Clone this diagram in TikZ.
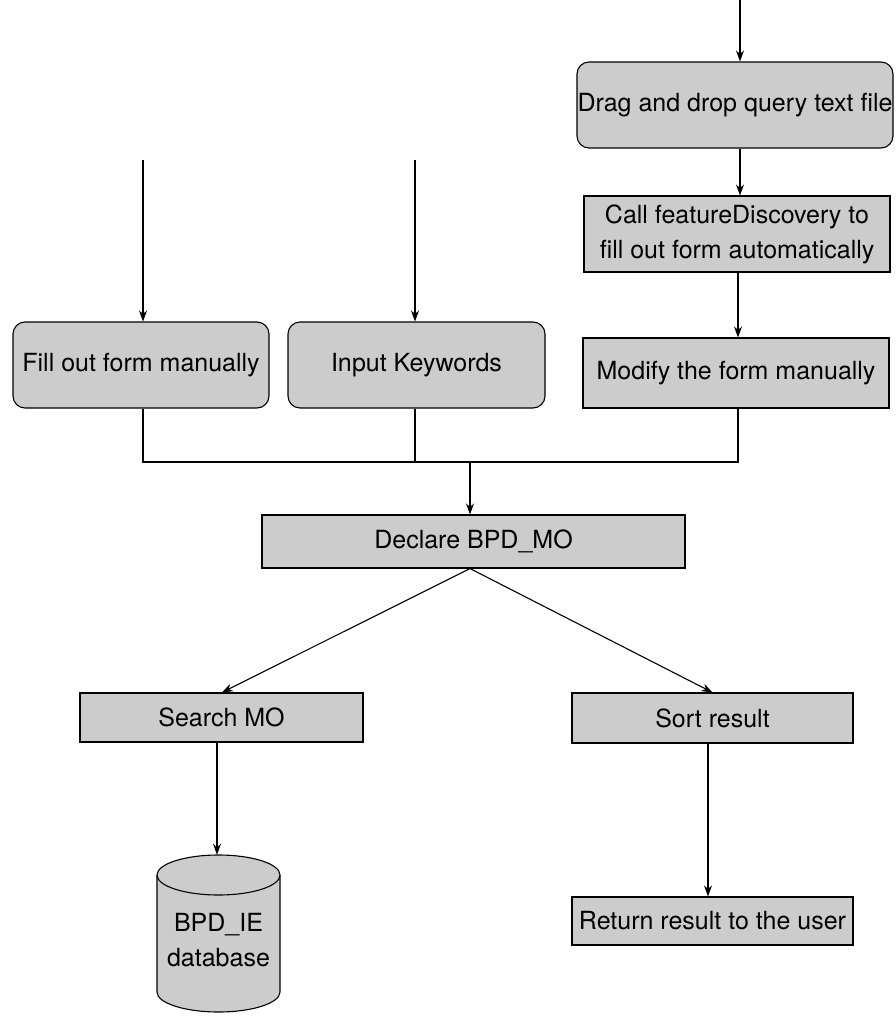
\documentclass[tikz,border=0pt]{standalone}
\usepackage{fontspec}
\setmainfont{TeX Gyre Heros}
\usetikzlibrary{arrows.meta}
\definecolor{boxgray}{gray}{0.80}
\tikzset{
  every node/.style={font=\fontsize{25}{35}\selectfont, text=black},
  box/.style={draw=black, line width=1.1pt, fill=boxgray, inner sep=0pt, align=center},
  rbox/.style={box, rounded corners=12pt},
  arr/.style={line width=1.1pt, -{Stealth[length=11pt,width=8pt]}},
  ln/.style={line width=1.1pt}
}
\begin{document}
\begin{tikzpicture}[x=1pt,y=-1pt]
\useasboundingbox (0,0) rectangle (895,1020);
% boxes
\node[rbox, minimum width=316pt, minimum height=86pt] (drag) at (735,105) {Drag and drop query text file};
\node[box, minimum width=306pt, minimum height=76pt] (call) at (737,234) {Call featureDiscovery to\\fill out form automatically};
\node[box, minimum width=306pt, minimum height=70pt] (modify) at (736,373) {Modify the form manually};
\node[rbox, minimum width=256pt, minimum height=86pt] (fill) at (141,365) {Fill out form manually};
\node[rbox, minimum width=257pt, minimum height=86pt] (input) at (416.5,365) {Input Keywords};
\node[box, minimum width=423pt, minimum height=53pt] (declare) at (473.5,541.5) {Declare BPD\_MO};
\node[box, minimum width=283pt, minimum height=49pt] (search) at (221.5,717.5) {Search MO};
\node[box, minimum width=281pt, minimum height=50pt] (sort) at (712.5,718) {Sort result};
\node[box, minimum width=281pt, minimum height=48pt] (ret) at (712.5,921) {Return result to the user};
% cylinder
\node[minimum width=123pt, minimum height=157pt, inner sep=0pt] (db) at (218.5,933.5) {};
\fill[boxgray] (157,875) -- (157,992) arc[start angle=180, end angle=0, x radius=61.5, y radius=20] -- (280,875) -- cycle;
\draw[ln] (157,875) -- (157,992) arc[start angle=180, end angle=0, x radius=61.5, y radius=20] -- (280,875);
\draw[ln, fill=boxgray] (218.5,875) ellipse [x radius=61.5, y radius=20];
\node[align=center] (dbtext) at (218.5,940) {BPD\_IE\\database};
% free ends and routing points
\coordinate (t0) at (740,0);
\coordinate (m) at (738,0);
\coordinate (t1) at (143,160);
\coordinate (t2) at (415,160);
\coordinate (j) at (470,462);
\coordinate (sx) at (217,0);
\coordinate (rx) at (708,0);
% connectors
\draw[arr] (t0) -- (t0 |- drag.north);
\draw[arr] (drag.south -| t0) -- (t0 |- call.north);
\draw[arr] (call.south -| m) -- (m |- modify.north);
\draw[arr] (t1) -- (t1 |- fill.north);
\draw[arr] (t2) -- (t2 |- input.north);
\draw[ln] (fill.south -| t1) -- (t1 |- j) -- (m |- j) -- (modify.south -| m);
\draw[ln] (input.south -| t2) -- (t2 |- j);
\draw[arr] (j) -- (j |- declare.north);
\coordinate (d0) at (declare.south -| j);
\draw[arr] (d0) -- (search.north -| 222,0);
\draw[arr] (d0) -- (sort.north);
\draw[arr] (search.south -| sx) -- (sx |- db.north);
\draw[arr] (sort.south -| rx) -- (rx |- ret.north);
\end{tikzpicture}
\end{document}
